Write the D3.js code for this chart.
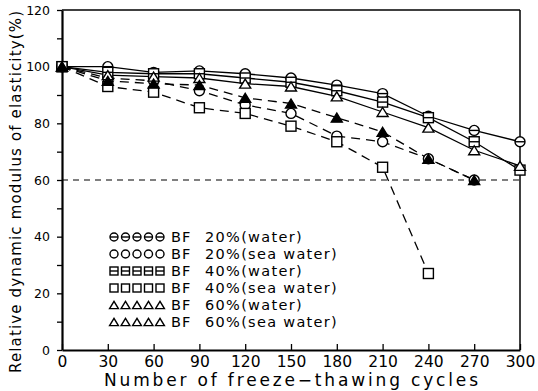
<!DOCTYPE html>
<html><head><meta charset="utf-8">
<script src="https://cdn.jsdelivr.net/npm/d3@7"></script>
<style>
html,body{margin:0;padding:0;background:#fff;}
svg{display:block;}
text{font-family:"DejaVu Sans",sans-serif;fill:#000;}
</style></head>
<body>
<script>
const cycles = [0, 30, 60, 90, 120, 150, 180, 210, 240, 270, 300];
const bf20Water = [100, 100, 98, 98.5, 97.5, 96, 93.5, 90.5, 82.5, 77.5, 73.5];
const bf20Sea   = [100, 96, 95, 91.5, 86.5, 83.5, 75.5, 73.5, 67.5, 60, null];
const bf40Water = [100, 98, 97.5, 97.5, 96, 94.5, 91.5, 87.5, 82, 73.5, 63.5];
const bf40Sea   = [100, 93, 91, 85.5, 83.5, 79, 73.5, 64.5, 27, null, null];
const bf60Water = [100, 97, 96.5, 96, 94, 93, 89.5, 84, 78.5, 70.5, 65];
const bf60Sea   = [100, 95, 94, 93.5, 89, 87, 82, 77, 67.5, 60, null];
const seriesNames = ["BF 20%(water)", "BF 20%(sea water)", "BF 40%(water)", "BF 40%(sea water)", "BF 60%(water)", "BF 60%(sea water)"];
const xTicks = [0, 30, 60, 90, 120, 150, 180, 210, 240, 270, 300];
const yTicks = [0, 20, 40, 60, 80, 100, 120];
const refLevel = 60;

const series = [
  {name: seriesNames[0], values: bf20Water, marker: "circleBar", dashed: false},
  {name: seriesNames[1], values: bf20Sea, marker: "circle", dashed: true},
  {name: seriesNames[2], values: bf40Water, marker: "squareBar", dashed: false},
  {name: seriesNames[3], values: bf40Sea, marker: "square", dashed: true},
  {name: seriesNames[4], values: bf60Water, marker: "triangle", dashed: false},
  {name: seriesNames[5], values: bf60Sea, marker: "triangleFill", dashed: true}
];

const W = 538, H = 391;
const svg = d3.select("body").append("svg").attr("width", W).attr("height", H);
const x = d3.scaleLinear().domain([0, 300]).range([62, 520]);
const y = d3.scaleLinear().domain([0, 120]).range([350, 10]);

// frame
svg.append("line").attr("x1", x(0)).attr("x2", x(300)).attr("y1", y(120)).attr("y2", y(120)).attr("stroke", "#000").attr("stroke-width", 1.5);
svg.append("line").attr("x1", x(300)).attr("x2", x(300)).attr("y1", y(120)).attr("y2", y(0)).attr("stroke", "#000").attr("stroke-width", 1.5);

// axes
const xAxis = svg.append("g").attr("transform", `translate(0,${y(0)})`)
  .call(d3.axisBottom(x).tickValues(xTicks).tickSizeInner(-6).tickSizeOuter(0).tickPadding(6).tickFormat(d3.format("d")));
xAxis.select(".domain").attr("stroke-width", 2);
xAxis.selectAll("line").attr("stroke-width", 1.3);
xAxis.selectAll("text").attr("font-size", 15.5).attr("font-family", "DejaVu Sans");

const yAxis = svg.append("g").attr("transform", `translate(${x(0)},0)`)
  .call(d3.axisLeft(y).tickValues(d3.range(0, 121, 10)).tickSize(5).tickSizeOuter(0).tickPadding(7)
    .tickFormat(d => yTicks.includes(d) ? d : ""));
yAxis.select(".domain").attr("stroke-width", 2.2);
yAxis.selectAll("line").attr("stroke-width", 1.3);
yAxis.selectAll("text").attr("font-size", 12.5).attr("font-family", "DejaVu Sans");

// reference line
svg.append("line").attr("x1", x(0)).attr("x2", x(300)).attr("y1", y(refLevel)).attr("y2", y(refLevel))
  .attr("stroke", "#000").attr("stroke-width", 1.2).attr("stroke-dasharray", "6,5");

// lines
const line = d3.line().defined(d => d[1] != null).x(d => x(d[0])).y(d => y(d[1]));
series.forEach(s => {
  const pts = cycles.map((c, i) => [c, s.values[i]]);
  svg.append("path").datum(pts).attr("d", line).attr("fill", "none").attr("stroke", "#000")
    .attr("stroke-width", 1.3).attr("stroke-dasharray", s.dashed ? "9,6" : null);
});

function drawMarker(g, type, cx, cy, r) {
  const sw = 1.4;
  if (type === "circle" || type === "circleBar") {
    g.append("circle").attr("cx", cx).attr("cy", cy).attr("r", r).attr("fill", "#fff").attr("stroke", "#000").attr("stroke-width", sw);
    if (type === "circleBar") g.append("line").attr("x1", cx - r).attr("x2", cx + r).attr("y1", cy).attr("y2", cy).attr("stroke", "#000").attr("stroke-width", sw);
  } else if (type === "square" || type === "squareBar") {
    g.append("rect").attr("x", cx - r).attr("y", cy - r).attr("width", 2 * r).attr("height", 2 * r).attr("fill", "#fff").attr("stroke", "#000").attr("stroke-width", sw);
    if (type === "squareBar") g.append("line").attr("x1", cx - r).attr("x2", cx + r).attr("y1", cy).attr("y2", cy).attr("stroke", "#000").attr("stroke-width", sw);
  } else {
    const h = r * 1.8;
    const p = [[cx - r * 1.1, cy + h / 2], [cx + r * 1.1, cy + h / 2], [cx, cy - h / 2]];
    g.append("path").attr("d", "M" + p.join("L") + "Z").attr("fill", type === "triangleFill" ? "#000" : "#fff").attr("stroke", "#000").attr("stroke-width", sw);
  }
}

const mk = svg.append("g");
series.forEach(s => {
  cycles.forEach((c, i) => {
    const v = s.values[i];
    if (v == null) return;
    drawMarker(mk, s.marker, x(c), y(v), 5);
  });
});

// legend
const legendRows = [237, 254, 271, 288, 305, 322];
const lg = svg.append("g");
series.forEach((s, k) => {
  const ly = legendRows[k];
  for (let j = 0; j < 5; j++) {
    drawMarker(lg, s.marker === "triangleFill" ? "triangle" : s.marker, 114 + j * 11.5, ly, 4);
  }
  const parts = s.name.split(" ");
  lg.append("text").attr("x", 171).attr("y", ly + 5).attr("font-size", 14.5).attr("letter-spacing", 1).text(parts[0]);
  lg.append("text").attr("x", 205).attr("y", ly + 5).attr("font-size", 14.5).attr("letter-spacing", 1.3).text(parts.slice(1).join(" "));
});

// axis titles
svg.append("text").attr("x", 291).attr("y", 386).attr("text-anchor", "middle").attr("font-size", 17)
  .attr("textLength", 374).attr("lengthAdjust", "spacing").text("Number of freeze\u2212thawing cycles");
svg.append("text").attr("transform", "translate(21,192) rotate(-90)").attr("text-anchor", "middle").attr("font-size", 15)
  .attr("textLength", 362).attr("lengthAdjust", "spacing").text("Relative dynamic modulus of elasticity(%)");
</script>
</body></html>
